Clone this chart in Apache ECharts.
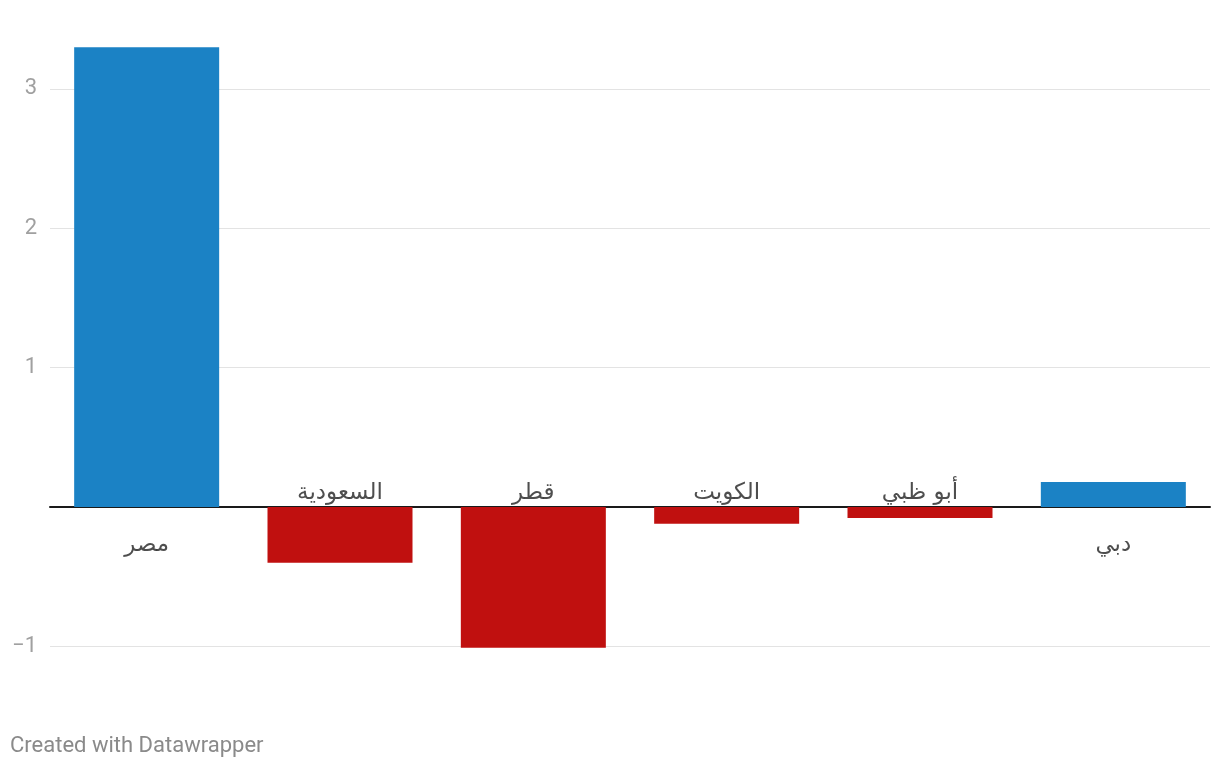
<!DOCTYPE html>
<html>
<head>
<meta charset="utf-8">
<script src="https://cdn.jsdelivr.net/npm/echarts@6/dist/echarts.min.js"></script>
<style>
html,body{margin:0;padding:0;background:#fff;}
#chart{width:1220px;height:768px;}
</style>
</head>
<body>
<div id="chart"></div>
<script>
const categories = ['مصر', 'السعودية', 'قطر', 'الكويت', 'أبو ظبي', 'دبي'];
const values = [3.3, -0.4, -1.01, -0.12, -0.08, 0.18];
const yTicks = [-1, 0, 1, 2, 3];

const BLUE = '#1b82c5';
const RED = '#c0100f';

const chart = echarts.init(document.getElementById('chart'), null, {renderer: 'canvas'});

const barData = values.map(v => ({
  value: v,
  itemStyle: {color: v >= 0 ? BLUE : RED}
}));

const labelData = categories.map((c, i) => ({
  value: 0,
  name: c,
  label: {offset: values[i] >= 0 ? [0, 38] : [0, -14]}
}));

chart.setOption({
  animation: false,
  grid: {left: 50, right: 10, top: 47.2, bottom: 768 - 646.3, containLabel: false},
  xAxis: {
    type: 'category',
    data: categories,
    axisLine: {show: true, onZero: true, lineStyle: {color: '#1a1a1a', width: 2}},
    axisTick: {show: false},
    axisLabel: {show: false},
    splitLine: {show: false}
  },
  yAxis: {
    type: 'value',
    min: -1,
    max: 3.3,
    interval: 1,
    axisLine: {show: false},
    axisTick: {show: false},
    axisLabel: {
      showMaxLabel: false,
      margin: 13,
      color: '#a0a0a0',
      fontFamily: 'Roboto',
      fontSize: 22,
      formatter: v => yTicks.includes(v) && v !== 0 ? (v < 0 ? '\u2212' + Math.abs(v) : String(v)) : ''
    },
    splitLine: {show: true, showMaxLine: false, lineStyle: {color: '#e3e3e3', width: 1}}
  },
  series: [
    {
      type: 'bar',
      data: barData,
      barWidth: '75%',
      clip: false,
      z: 2
    },
    {
      type: 'scatter',
      data: labelData,
      symbolSize: 0,
      silent: true,
      z: 5,
      label: {
        show: true,
        position: 'inside',
        formatter: p => p.name,
        color: '#222',
        fontSize: 23,
        fontFamily: 'DejaVu Sans, Noto Sans, sans-serif'
      }
    }
  ],
  graphic: [{
    type: 'text',
    left: 10,
    top: 735,
    style: {
      text: 'Created with Datawrapper',
      fill: '#8a8a8a',
      font: '22px Roboto'
    }
  }]
});
</script>
</body>
</html>
